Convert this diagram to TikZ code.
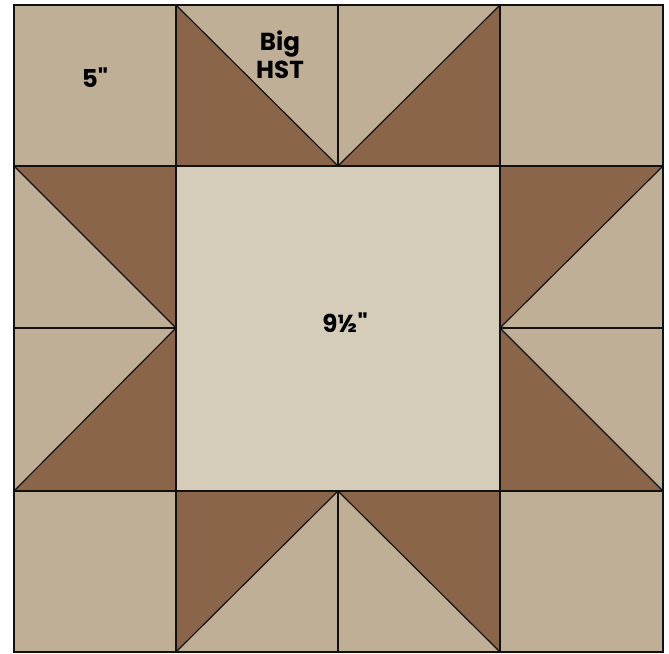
\documentclass[tikz,border=0pt]{standalone}
\usepackage{fontspec}
\setmainfont{Poppins}
\definecolor{tan}{HTML}{BFAF97}
\definecolor{bark}{HTML}{8B6549}
\definecolor{linen}{HTML}{D5CDBA}
\definecolor{seam}{HTML}{111111}
\begin{document}
\begin{tikzpicture}[every node/.style={text=black,font=\bfseries\fontsize{21}{24}\selectfont},
  patch/.style={fill=bark,draw=seam,line width=1pt,line join=round}]
\useasboundingbox (0,0) rectangle (20.07,19.59);
% background of the block and the centre square
\fill[tan] (.42,.03) rectangle (19.89,19.44);
\fill[linen] (5.28,4.86) rectangle (15.00,14.61);
% star points, top row
\filldraw[patch] (5.28,19.44) -- (5.28,14.61) -- (10.14,14.61) -- cycle;
\filldraw[patch] (15.00,19.44) -- (15.00,14.61) -- (10.14,14.61) -- cycle;
% star points, left column
\filldraw[patch] (.42,14.61) -- (5.28,14.61) -- (5.28,9.75) -- cycle;
\filldraw[patch] (5.28,9.75) -- (5.28,4.86) -- (.42,4.86) -- cycle;
% star points, right column
\filldraw[patch] (19.89,14.61) -- (15.00,14.61) -- (15.00,9.75) -- cycle;
\filldraw[patch] (15.00,9.75) -- (15.00,4.86) -- (19.89,4.86) -- cycle;
% star points, bottom row
\filldraw[patch] (5.28,4.86) -- (10.14,4.86) -- (5.28,.03) -- cycle;
\filldraw[patch] (15.00,4.86) -- (10.14,4.86) -- (15.00,.03) -- cycle;
% seams
\draw[seam,line width=1pt] (.42,.03) rectangle (19.89,19.44);
\draw[seam,line width=1pt] (.42,14.61) -- (19.89,14.61);
\draw[seam,line width=1pt] (.42,4.86) -- (19.89,4.86);
\draw[seam,line width=1pt] (5.28,.03) -- (5.28,19.44);
\draw[seam,line width=1pt] (15.00,.03) -- (15.00,19.44);
\draw[seam,line width=1pt] (10.14,19.44) -- (10.14,14.61);
\draw[seam,line width=1pt] (10.14,4.86) -- (10.14,.03);
\draw[seam,line width=1pt] (.42,9.75) -- (5.28,9.75);
\draw[seam,line width=1pt] (15.00,9.75) -- (19.89,9.75);
% labels
\node (corner) at (2.85,17.25) {5\textquotedbl};
\node[align=center] (hst) at (8.40,17.94) {Big\\HST};
\node (centre) at (10.35,9.90) {9½\textquotedbl};
\end{tikzpicture}
\end{document}
